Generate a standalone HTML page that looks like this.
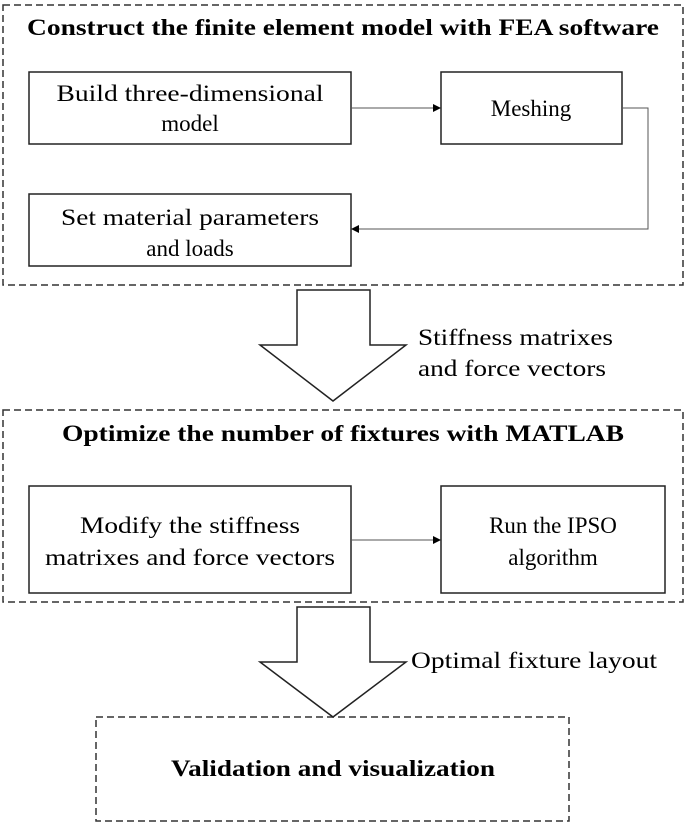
<!DOCTYPE html>
<html><head><style>body{margin:0;background:#fff}svg{display:block}</style></head><body>
<svg width="685" height="825" viewBox="0 0 685 825" xmlns="http://www.w3.org/2000/svg" font-family="Liberation Serif, serif">
<defs><marker id="a" markerWidth="8" markerHeight="8" refX="7" refY="4" orient="auto" markerUnits="userSpaceOnUse"><path d="M0,0 L8,4 L0,8 Z" fill="#000"/></marker></defs>
<g fill="none" stroke="#333" stroke-width="1.5" stroke-dasharray="7,4">
<rect x="3" y="5" width="680" height="280"/>
<rect x="3" y="410" width="680" height="192"/>
<rect x="96" y="717" width="473" height="104"/>
</g>
<g fill="#fff" stroke="#222" stroke-width="1.5">
<rect x="29" y="72" width="322" height="72"/>
<rect x="441" y="72" width="181" height="72"/>
<rect x="29" y="194" width="322" height="72"/>
<rect x="29" y="486" width="322" height="107"/>
<rect x="441" y="486" width="224" height="107"/>
<path d="M297,290 H370 V345 H406 L333,401 L260,345 H297 Z"/>
<path d="M297,607 H370 V662 H406 L333,717 L260,662 H297 Z"/>
</g>
<g fill="none" stroke="#555" stroke-width="1" marker-end="url(#a)">
<path d="M351,108 H440"/>
<path d="M622,108 H648 V229 H352"/>
<path d="M351,540 H440"/>
</g>
<g font-size="23" text-anchor="middle" fill="#000">
<text x="343" y="35" font-weight="bold" textLength="632" lengthAdjust="spacingAndGlyphs">Construct the finite element model with FEA software</text>
<text x="190" y="101" textLength="267" lengthAdjust="spacingAndGlyphs">Build three-dimensional</text>
<text x="190" y="131">model</text>
<text x="531" y="116">Meshing</text>
<text x="190" y="225" textLength="258" lengthAdjust="spacingAndGlyphs">Set material parameters</text>
<text x="190" y="256">and loads</text>
<text x="343" y="441" font-weight="bold" textLength="562" lengthAdjust="spacingAndGlyphs">Optimize the number of fixtures with MATLAB</text>
<text x="190" y="533" textLength="220" lengthAdjust="spacingAndGlyphs">Modify the stiffness</text>
<text x="190" y="565" textLength="290" lengthAdjust="spacingAndGlyphs">matrixes and force vectors</text>
<text x="553" y="533">Run the IPSO</text>
<text x="553" y="565">algorithm</text>
<text x="333" y="776" font-weight="bold" textLength="324" lengthAdjust="spacingAndGlyphs">Validation and visualization</text>
</g>
<g font-size="23" fill="#000">
<text x="418" y="345" textLength="195" lengthAdjust="spacingAndGlyphs">Stiffness matrixes</text>
<text x="418" y="376" textLength="188" lengthAdjust="spacingAndGlyphs">and force vectors</text>
<text x="411" y="668" textLength="246" lengthAdjust="spacingAndGlyphs">Optimal fixture layout</text>
</g>
</svg>
</body></html>
